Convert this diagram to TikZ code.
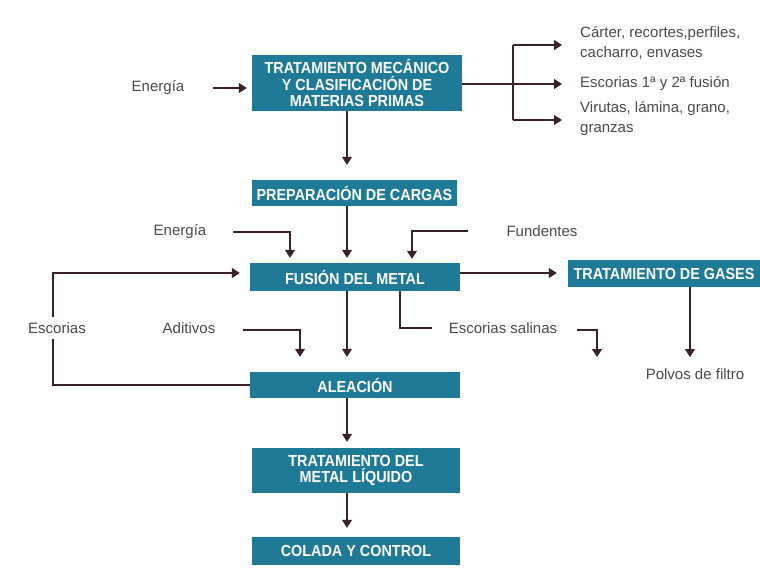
\documentclass[tikz,border=0pt]{standalone}
\usepackage{fontspec}
\setmainfont{Liberation Sans}
\newfontfamily\boxf[FakeStretch=0.9]{Liberation Sans}
\usetikzlibrary{arrows.meta}
\definecolor{boxc}{HTML}{1F7A98}
\definecolor{arrc}{HTML}{3A2327}
\definecolor{labc}{HTML}{4A4A4A}
\tikzset{
  box/.style={fill=boxc,text=white,font=\boxf\bfseries\fontsize{16}{16.5}\selectfont,align=center,inner sep=0pt},
  lab/.style={text=labc,font=\fontsize{15}{20}\selectfont,inner sep=0pt},
  conn/.style={draw=arrc,line width=1.3pt},
  arr/.style={conn,-{Triangle[length=8pt,width=10pt]}}
}
\begin{document}
\begin{tikzpicture}[x=1pt,y=-1pt]
\useasboundingbox (0,0) rectangle (760,579);
% boxes
\node[box,minimum width=210pt,minimum height=56pt] (b1) at (357,83) {TRATAMIENTO MECÁNICO\\Y CLASIFICACIÓN DE\\MATERIAS PRIMAS};
\node[box,minimum width=205pt,minimum height=26pt] (b2) at (354.5,193) {PREPARACIÓN DE CARGAS};
\node[box,minimum width=210pt,minimum height=28pt] (fus) at (355,277) {FUSIÓN DEL METAL};
\node[box,minimum width=192pt,minimum height=27pt] (gas) at (664,273.5) {TRATAMIENTO DE GASES};
\node[box,minimum width=210pt,minimum height=26pt] (ale) at (355,385) {ALEACIÓN};
\node[box,minimum width=208pt,minimum height=45pt] (tml) at (356,470.5) {TRATAMIENTO DEL\\METAL LÍQUIDO};
\node[box,minimum width=208pt,minimum height=28pt] (col) at (356,551) {COLADA Y CONTROL};
% labels
\node[lab] (e1) at (158,88) {Energía};
\node[lab,align=left,anchor=west] (o1) at (580,43) {Cárter, recortes,perfiles,\\cacharro, envases};
\node[lab,anchor=west] (o2) at (580,84) {Escorias 1ª y 2ª fusión};
\node[lab,align=left,anchor=west] (o3) at (580,119) {Virutas, lámina, grano,\\granzas};
\node[lab] (e2) at (180,232) {Energía};
\node[lab] (fun) at (542,231) {Fundentes};
\node[lab] (adi) at (189,328) {Aditivos};
\node[lab] (esa) at (503,328) {Escorias salinas};
\node[lab] (pol) at (695,374) {Polvos de filtro};
% connectors
\coordinate (br) at (513,84);
\draw[arr] (213,88) -- ([xshift=-5pt]b1.west |- 0,88);
\draw[conn] (b1.east |- br) -- (br);
\draw[conn] (513,45) -- (513,120);
\draw[arr] (513,45) -- ([xshift=-18pt]o1.west |- 0,45);
\draw[arr] (br) -- ([xshift=-18pt]o2.west);
\draw[arr] (513,120) -- ([xshift=-18pt]o3.west |- 0,120);
\draw[arr] (b1.south -| 347,0) -- ([yshift=15pt]b2.north -| 347,0);
\draw[arr] (b2.south -| 347,0) -- ([yshift=5pt]fus.north -| 347,0);
\draw[arr] (233,232) -| ([yshift=5pt]fus.north -| 290,0);
\draw[arr] (468,231) -| ([yshift=4pt]fus.north -| 412,0);
\draw[arr] (ale.west) -- (53,385) -- (53,273) -- ([xshift=-10pt]fus.west |- 0,273);
\node[lab,fill=white,inner ysep=5pt] (esc) at (57,328) {Escorias};
\draw[arr] (243,330) -| ([yshift=15pt]ale.north -| 300,0);
\draw[arr] (fus.south -| 347,0) -- ([yshift=15pt]ale.north -| 347,0);
\draw[arr] (fus.east |- 0,273) -- ([xshift=-11pt]gas.west |- 0,273);
\draw[conn] (fus.south -| 400,0) |- (432,328);
\draw[arr] (577,330) -| (597,357);
\draw[arr] (gas.south -| 690,0) -- (690,357);
\draw[arr] (ale.south -| 347,0) -- ([yshift=6pt]tml.north -| 347,0);
\draw[arr] (tml.south -| 347,0) -- ([yshift=9pt]col.north -| 347,0);
\end{tikzpicture}
\end{document}
